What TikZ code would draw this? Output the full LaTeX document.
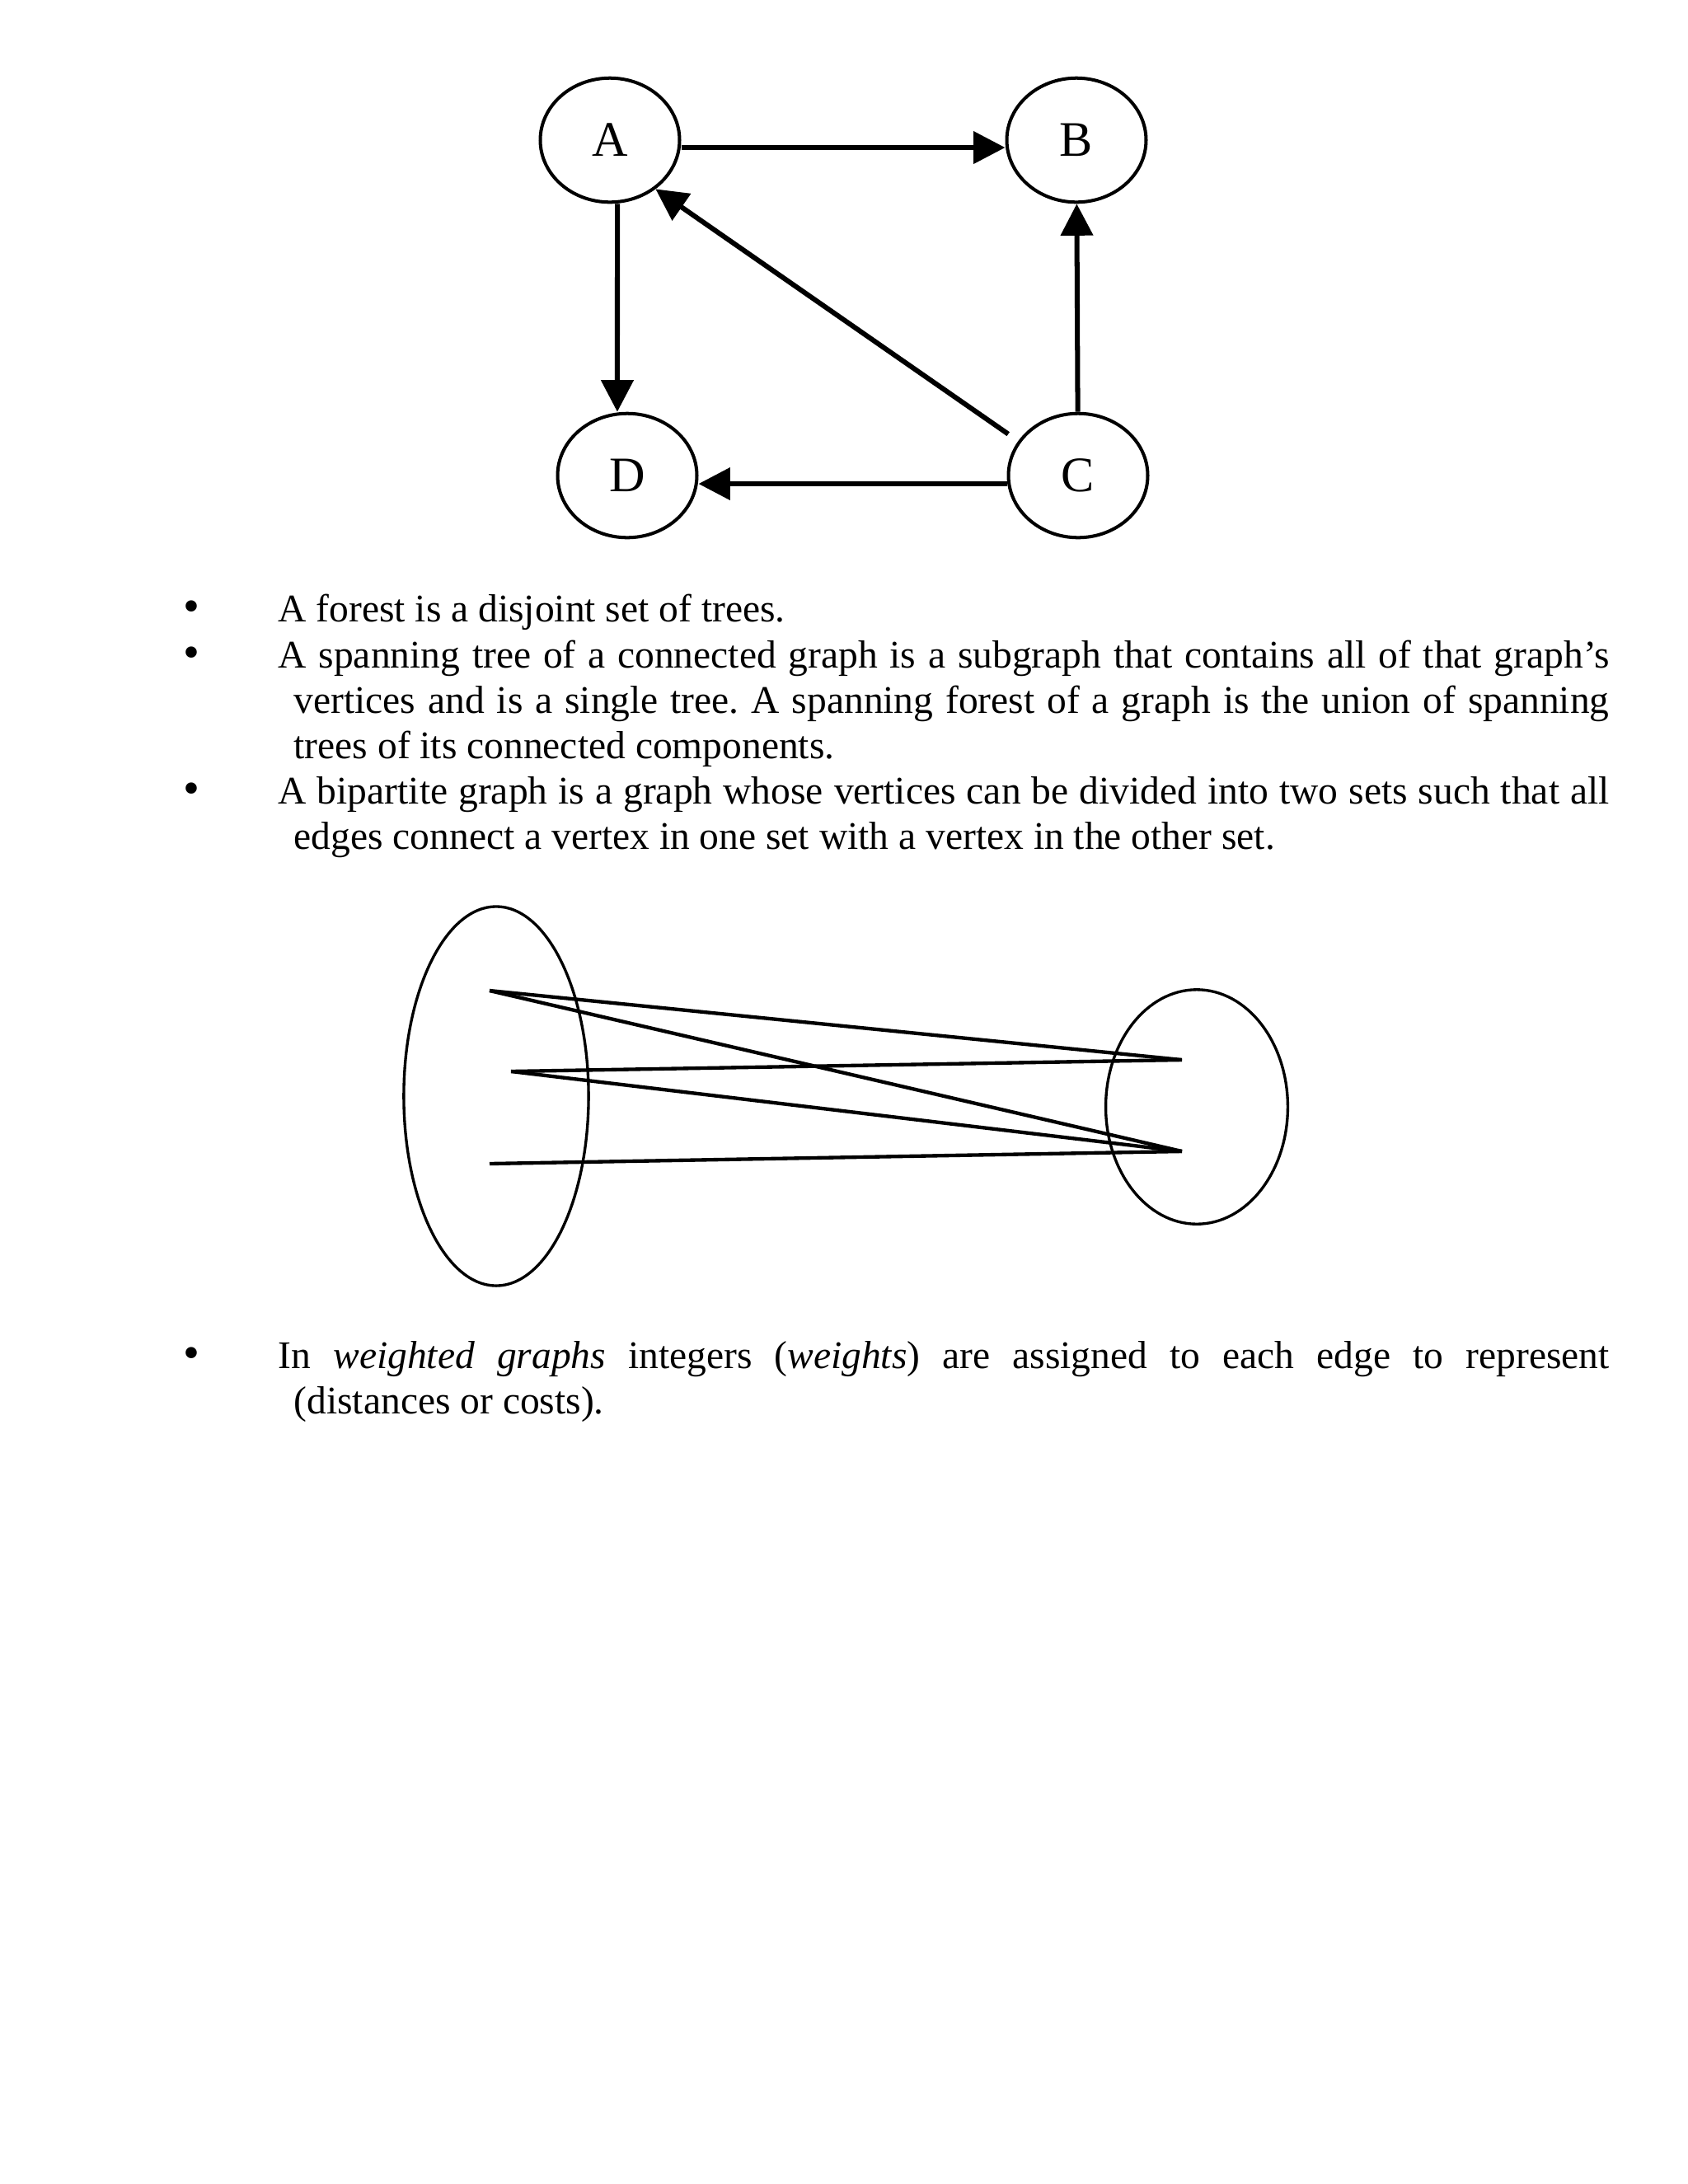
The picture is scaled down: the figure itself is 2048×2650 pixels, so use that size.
\documentclass[tikz,border=0pt]{standalone}
\usepackage{fontspec}
\setmainfont{Liberation Serif}
\usetikzlibrary{shapes.geometric,arrows.meta}
\frenchspacing

\tikzset{
  vertex/.style={ellipse,draw,line width=1.2pt,inner sep=0pt,minimum width=50.5pt,minimum height=45pt,font=\fontsize{18}{20}\selectfont},
  edge/.style={line width=1.8pt,->},
  set/.style={ellipse,draw,line width=1pt,inner sep=0pt},
  link/.style={line width=1.3pt},
  txt/.style={inner sep=0pt,anchor=base west,font=\fontsize{14.2}{16.5}\selectfont}
}

\begin{document}
\begin{tikzpicture}[x=0.29883pt,y=-0.29883pt,>={Triangle[length=11.5pt,width=11.5pt]}]
\useasboundingbox (0,0) rectangle (2048,2650);
% directed graph
\foreach \x/\y/\n/\t in {740/170/a/A, 1306/170/b/B, 1308/577/c/C, 761/577/d/D}
  \node[vertex] (\n) at (\x,\y) {\t};
\draw[edge] ([yshift=-2.7pt]a.east) -- ([yshift=-2.7pt]b.west);
\draw[edge] ([xshift=2.7pt]a.south) -- ([xshift=-3.6pt]d.north);
\draw[edge] (c) -- (b);
\draw[edge] ([yshift=-3pt]c.west) -- ([yshift=-3pt]d.east);
\draw[edge,shorten <=4.4pt] (c.150) -- (a.-47);
% text
\foreach \y/\n in {754/b1, 810/b2, 975/b3, 1660/b4}
  \node[txt,anchor=base,font=\fontsize{17}{17}\selectfont] (\n) at (232,\y) {•};
\foreach \x/\y/\n/\t in {337/754/l1/{A forest is a disjoint set of trees.}, 356/920/l4/{trees of its connected components.}, 356/1030/l6/{edges connect a vertex in one set with a vertex in the other set.}, 356/1715/l8/{(distances or costs).}}
  \node[txt] (\n) at (\x,\y) {\t};
\foreach \x/\y/\w/\n/\t in {337/810/482.6/l2/{A spanning tree of a connected graph is a subgraph that contains all of that graph’s}, 356/865/476.9/l3/{vertices and is a single tree. A spanning forest of a graph is the union of spanning}, 337/975/482.6/l5/{A bipartite graph is a graph whose vertices can be divided into two sets such that all}, 337/1660/482.6/l7/{In \textit{weighted graphs} integers (\textit{weights}) are assigned to each edge to represent}}
  \node[txt] (\n) at (\x,\y) {\makebox[\w pt][s]{\t}};
% bipartite graph
\node[set,minimum width=67pt,minimum height=137.5pt] (left) at (602,1330) {};
\node[set,minimum width=66pt,minimum height=85pt] (right) at (1452,1343) {};
\foreach \x/\y/\n in {594/1202/u1, 620/1300/u2, 594/1412/u3, 1434/1286/v1, 1434/1397/v2}
  \coordinate (\n) at (\x,\y);
\foreach \s/\t in {u1/v1, u1/v2, u2/v1, u2/v2, u3/v2}
  \draw[link] (\s) -- (\t);
\end{tikzpicture}
\end{document}
